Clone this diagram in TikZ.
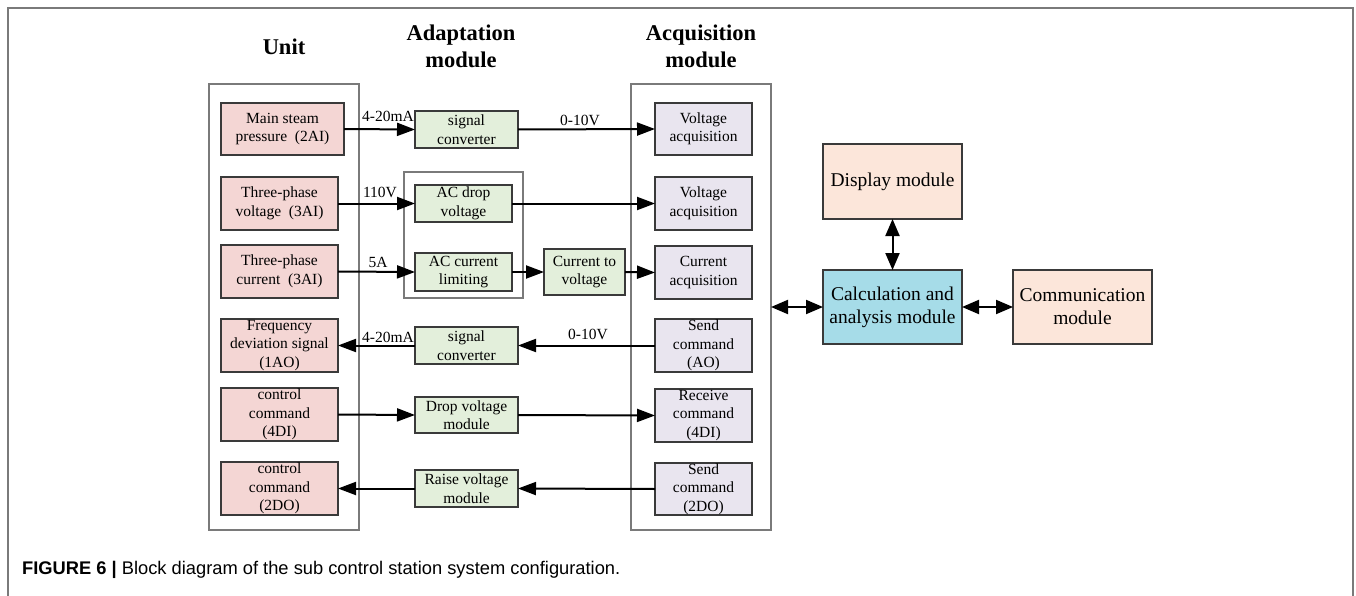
\documentclass[tikz,border=0pt]{standalone}
\usepackage{fontspec}
\setmainfont{Liberation Serif}
\newfontfamily\capfont{Liberation Sans}
\usetikzlibrary{arrows.meta}

\definecolor{unitfill}{HTML}{F4D6D4}
\definecolor{adaptfill}{HTML}{E3EFDB}
\definecolor{acqfill}{HTML}{E9E5EF}
\definecolor{peachfill}{HTML}{FCE6DA}
\definecolor{calcfill}{HTML}{A6DCE8}
\definecolor{boxline}{HTML}{3A3A3A}
\definecolor{framegray}{HTML}{7A7A7A}

\newcommand{\boxfont}{\fontsize{15.5}{18.5}\selectfont}
\newcommand{\bigfont}{\fontsize{19.5}{23}\selectfont}
\newcommand{\lblfont}{\fontsize{15.5}{18}\selectfont}
\newcommand{\titlefont}{\fontsize{22.5}{27}\selectfont\bfseries}

% block from corner (x1,y1) to corner (x2,y2), y measured downwards
\newcommand{\blk}[7]{\node[#6, minimum width={(#4-#2)*1pt}, minimum height={(#5-#3)*1pt}] (#1) at ({(#2+#4)/2},{(#3+#5)/2}) {#7};}

\tikzset{
  box/.style={draw=boxline, line width=1.6pt, inner sep=0pt, outer sep=0pt, align=center, text=black, font=\boxfont},
  unitbox/.style={box, fill=unitfill},
  adaptbox/.style={box, fill=adaptfill},
  acqbox/.style={box, fill=acqfill},
  peachbox/.style={box, fill=peachfill, font=\bigfont},
  calcbox/.style={box, fill=calcfill, font=\bigfont},
  groupbox/.style={draw=framegray, line width=1.1pt, inner sep=0pt, outer sep=0pt},
  sig/.style={line width=2pt, -{Triangle[length=18pt,width=13pt]}},
  sigboth/.style={line width=2pt, {Triangle[length=17pt,width=14pt]}-{Triangle[length=17pt,width=14pt]}},
  lbl/.style={font=\lblfont, inner sep=0pt},
  coltitle/.style={font=\titlefont, align=center, inner sep=0pt},
}

\begin{document}
\begin{tikzpicture}[x=1pt, y=-1pt]
\useasboundingbox (0,0) rectangle (1356,596);

% page frame
\draw[framegray, line width=1.5pt] (8,596) -- (8,8) -- (1353,8) -- (1353,596);

% column titles
\node[coltitle] (tunit) at (284,47) {Unit};
\node[coltitle] (tadapt) at (461,46.5) {Adaptation\\module};
\node[coltitle] (tacq) at (701,46.5) {Acquisition\\module};

% group frames
\blk{unitgroup}{209}{84}{359}{530}{groupbox}{}
\blk{acqgroup}{631}{84}{771}{530}{groupbox}{}
\blk{acgroup}{404}{172}{523}{298}{groupbox}{}

% unit signals
\blk{ms}{221}{103}{344}{155}{unitbox}{Main steam\\pressure\hspace{0.5em}(2AI)}
\blk{tpv}{221}{177}{338}{230}{unitbox}{Three-phase\\voltage\hspace{0.5em}(3AI)}
\blk{tpc}{221}{245}{338}{298}{unitbox}{Three-phase\\current\hspace{0.5em}(3AI)}
\blk{fd}{221}{319}{338}{372}{unitbox}{Frequency\\deviation signal\\(1AO)}
\blk{cc4}{221}{388}{338}{441}{unitbox}{control\\command\\(4DI)}
\blk{cc2}{221}{462}{338}{515}{unitbox}{control\\command\\(2DO)}

% adaptation modules
\blk{sc1}{415}{111}{518}{148}{adaptbox}{signal\\converter}
\blk{acd}{415}{185}{512}{222}{adaptbox}{AC drop\\voltage}
\blk{acl}{415}{253}{512}{291}{adaptbox}{AC current\\limiting}
\blk{c2v}{544}{249}{625}{295}{adaptbox}{Current to\\voltage}
\blk{sc2}{415}{327}{518}{364}{adaptbox}{signal\\converter}
\blk{dv}{415}{397}{518}{433}{adaptbox}{Drop voltage\\module}
\blk{rv}{415}{470}{518}{507}{adaptbox}{Raise voltage\\module}

% acquisition channels
\blk{va1}{655}{103}{752}{155}{acqbox}{Voltage\\acquisition}
\blk{va2}{655}{177}{752}{230}{acqbox}{Voltage\\acquisition}
\blk{ca}{655}{246}{752}{299}{acqbox}{Current\\acquisition}
\blk{sa}{655}{319}{752}{372}{acqbox}{Send\\command\\(AO)}
\blk{rc}{655}{389}{752}{442}{acqbox}{Receive\\command\\(4DI)}
\blk{sd}{655}{463}{752}{515}{acqbox}{Send\\command\\(2DO)}

% processing side
\blk{disp}{823}{144}{962}{219}{peachbox}{Display module}
\blk{calc}{823}{270}{962}{344}{calcbox}{Calculation and\\analysis module}
\blk{comm}{1013}{270}{1152}{344}{peachbox}{Communication\\module}

% signal paths
\draw[sig] (ms.east) -- (sc1.west);
\draw[sig] (sc1.east) -- (va1.west);
\draw[sig] (tpv.east) -- (acd.west);
\draw[sig] (acd.east) -- (va2.west);
\draw[sig] (tpc.east) -- (acl.west);
\draw[sig] (acl.east) -- (c2v.west);
\draw[sig] (c2v.east) -- (ca.west);
\draw[sig] (sa.west) -- (sc2.east);
\draw[sig] (sc2.west) -- (fd.east);
\draw[sig] (cc4.east) -- (dv.west);
\draw[sig] (dv.east) -- (rc.west);
\draw[sig] (sd.west) -- (rv.east);
\draw[sig] (rv.west) -- (cc2.east);

\draw[sigboth] (acqgroup.east) -- (calc.west);
\draw[sigboth] (disp.south) -- (calc.north);
\draw[sigboth] (calc.east) -- (comm.west);

% signal levels
\node[lbl] (l1) at (388,116) {4-20mA};
\node[lbl] (l2) at (580,120) {0-10V};
\node[lbl] (l3) at (380,192) {110V};
\node[lbl] (l4) at (378,262) {5A};
\node[lbl] (l5) at (388,337) {4-20mA};
\node[lbl] (l6) at (588,334) {0-10V};

% caption
\node[anchor=west, inner sep=0pt, font=\capfont\fontsize{18.3}{21}\selectfont] (cap) at (22,570)
  {\textbf{FIGURE 6 |} Block diagram of the sub control station system configuration.};
\end{tikzpicture}
\end{document}
